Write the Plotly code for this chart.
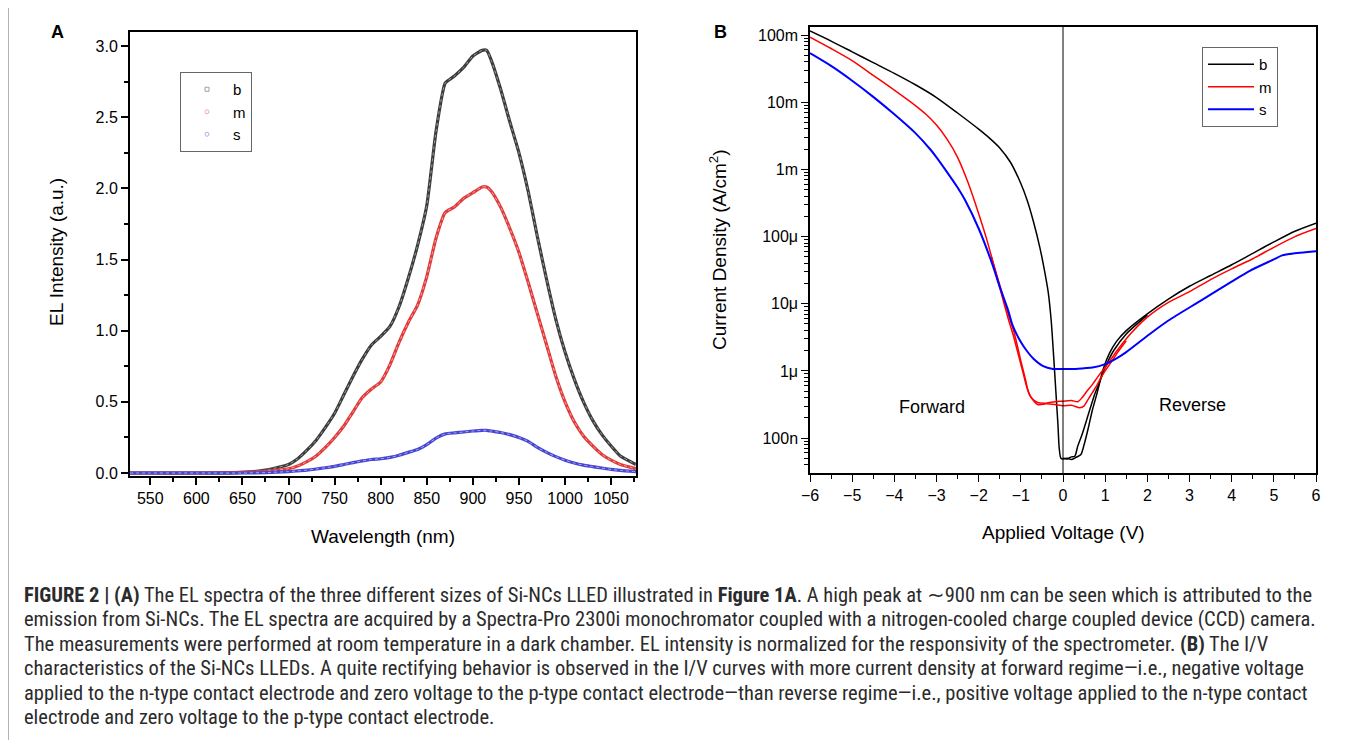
import plotly.graph_objects as go

W, H = 1357, 740
OFF = 8  # page offset of the figure inside the browser window

# ---------------- Panel A data (EL spectra) ----------------
wavelength_nm = [528, 550, 600, 650, 675, 700, 710, 720, 730, 740, 750, 760, 770, 780, 790, 800,
                 810, 820, 830, 840, 850, 860, 870, 880, 890, 900, 910, 915, 920, 930, 940, 950,
                 960, 970, 980, 990, 1000, 1010, 1020, 1030, 1040, 1050, 1060, 1077]
el_b = [0, 0, 0, 0.005, 0.02, 0.06, 0.1, 0.16, 0.23, 0.32, 0.42, 0.55, 0.68, 0.8, 0.9, 0.96,
        1.03, 1.17, 1.37, 1.6, 1.88, 2.4, 2.74, 2.79, 2.85, 2.93, 2.97, 2.97, 2.9, 2.7, 2.47, 2.25,
        1.98, 1.66, 1.36, 1.08, 0.85, 0.66, 0.5, 0.37, 0.27, 0.19, 0.12, 0.06]
el_m = [0, 0, 0, 0.004, 0.012, 0.03, 0.05, 0.08, 0.12, 0.18, 0.25, 0.33, 0.43, 0.53, 0.59, 0.64,
        0.76, 0.92, 1.06, 1.18, 1.38, 1.65, 1.83, 1.87, 1.93, 1.97, 2.01, 2.01, 1.98, 1.87, 1.72, 1.55,
        1.34, 1.12, 0.9, 0.68, 0.5, 0.36, 0.26, 0.19, 0.13, 0.09, 0.06, 0.03]
el_s = [0, 0, 0, 0.0, 0.003, 0.01, 0.015, 0.02, 0.028, 0.037, 0.047, 0.06, 0.073, 0.085, 0.095, 0.1,
        0.11, 0.125, 0.145, 0.165, 0.2, 0.245, 0.275, 0.282, 0.288, 0.295, 0.3, 0.3, 0.295, 0.285, 0.27, 0.25,
        0.222, 0.18, 0.145, 0.115, 0.09, 0.07, 0.055, 0.045, 0.035, 0.025, 0.018, 0.01]

# ---------------- Panel B data (I/V, log10 of J in A/cm^2) ----------------
v_b1 = [-6, -5.5, -5, -4.5, -4, -3.5, -3, -2.5, -2, -1.75, -1.5, -1.25, -1.0, -0.85, -0.7, -0.55, -0.45,
        -0.35, -0.28, -0.22, -0.17, -0.12, -0.09, -0.05, 0, 0.1, 0.2, 0.3, 0.42, 0.5, 0.6, 0.69, 0.8, 0.95,
        1.1, 1.27, 1.5, 2.0, 2.5, 3.0, 3.5, 4.0, 4.5, 5.0, 5.5, 6.0]
logj_b1 = [-0.94, -1.09, -1.25, -1.41, -1.57, -1.74, -1.93, -2.16, -2.4, -2.53, -2.68, -2.89, -3.21, -3.46,
           -3.78, -4.16, -4.47, -4.83, -5.25, -5.8, -6.3, -6.8, -7.15, -7.3, -7.31, -7.3, -7.32, -7.29,
           -7.25, -7.1, -6.85, -6.6, -6.35, -5.98, -5.74, -5.56, -5.4, -5.15, -4.93, -4.74, -4.58, -4.42,
           -4.25, -4.08, -3.92, -3.8]
v_b2 = [0.0, 0.1, 0.2, 0.28, 0.35, 0.45, 0.6, 0.75, 0.88, 1.0, 1.2, 1.5, 2.0]
logj_b2 = [-7.3, -7.31, -7.28, -7.27, -7.12, -6.95, -6.65, -6.35, -6.15, -5.95, -5.7, -5.45, -5.17]

v_m1 = [-6, -5.5, -5, -4.5, -4, -3.5, -3.25, -3, -2.75, -2.5, -2.25, -2.0, -1.8, -1.66, -1.5, -1.3, -1.18,
        -1.05, -0.95, -0.85, -0.75, -0.6, -0.4, -0.2, 0, 0.2, 0.35, 0.45, 0.57, 0.7, 0.88, 1.0, 1.28, 1.5,
        2.0, 2.5, 3.0, 3.5, 4.0, 4.5, 5.0, 5.5, 6.0]
logj_m1 = [-1.03, -1.2, -1.38, -1.6, -1.82, -2.05, -2.18, -2.34, -2.55, -2.82, -3.2, -3.66, -4.06, -4.38,
           -4.76, -5.22, -5.47, -5.78, -6.02, -6.26, -6.4, -6.47, -6.48, -6.46, -6.45, -6.44, -6.46, -6.4,
           -6.3, -6.2, -6.04, -5.95, -5.7, -5.52, -5.2, -4.98, -4.82, -4.64, -4.48, -4.33, -4.16, -4.0, -3.88]
v_m2 = [-1.7, -1.5, -1.3, -1.15, -1.0, -0.9, -0.8, -0.6, -0.4, -0.2, 0, 0.2, 0.4, 0.5, 0.6, 0.7, 0.8, 0.9,
        1.0, 1.11, 1.3, 1.5]
logj_m2 = [-4.3, -4.72, -5.15, -5.45, -5.85, -6.1, -6.35, -6.5, -6.49, -6.5, -6.52, -6.51, -6.55, -6.52,
           -6.42, -6.32, -6.22, -6.1, -6.0, -5.9, -5.72, -5.55]

v_s = [-6, -5.5, -5, -4.5, -4, -3.5, -3.15, -3, -2.75, -2.5, -2.32, -2.0, -1.66, -1.5, -1.3, -1.19, -1.0,
       -0.86, -0.7, -0.47, -0.24, 0, 0.3, 0.5, 0.7, 1.0, 1.28, 1.5, 2.06, 2.5, 3.25, 4.0, 4.43, 5.0, 5.2,
       5.5, 5.8, 6.0]
logj_s = [-1.27, -1.46, -1.68, -1.92, -2.18, -2.46, -2.7, -2.82, -3.04, -3.27, -3.46, -3.88, -4.44, -4.75,
          -5.1, -5.33, -5.57, -5.7, -5.82, -5.93, -5.97, -5.97, -5.97, -5.96, -5.95, -5.9, -5.81, -5.72,
          -5.45, -5.25, -4.96, -4.67, -4.51, -4.34, -4.28, -4.25, -4.23, -4.22]

ytick_vals_b = [1e-7, 1e-6, 1e-5, 1e-4, 1e-3, 1e-2, 1e-1]
ytick_text_b = ["100n", "1\u03bc", "10\u03bc", "100\u03bc", "1m", "10m", "100m"]

caption_lines = [
    "<b>FIGURE 2 | (A)</b> The EL spectra of the three different sizes of Si-NCs LLED illustrated in <b>Figure 1A</b>. A high peak at \u223c900 nm can be seen which is attributed to the",
    "emission from Si-NCs. The EL spectra are acquired by a Spectra-Pro 2300i monochromator coupled with a nitrogen-cooled charge coupled device (CCD) camera.",
    "The measurements were performed at room temperature in a dark chamber. EL intensity is normalized for the responsivity of the spectrometer. <b>(B)</b> The I/V",
    "characteristics of the Si-NCs LLEDs. A quite rectifying behavior is observed in the I/V curves with more current density at forward regime\u2014i.e., negative voltage",
    "applied to the n-type contact electrode and zero voltage to the p-type contact electrode\u2014than reverse regime\u2014i.e., positive voltage applied to the n-type contact",
    "electrode and zero voltage to the p-type contact electrode.",
]

def px(x):
    return (x - OFF) / W

def py(y):
    return 1 - (y - OFF) / H

FONT = "Liberation Sans, Arial, sans-serif"

fig = go.Figure()

# Panel A curves
a_series = [("b", el_b, "#3c3c3c", "#a0a0a0", "square-open"),
            ("m", el_m, "#e03a3a", "#f2a8a8", "circle-open"),
            ("s", el_s, "#4646d2", "#ababee", "circle-open")]
for name, vals, col, light, sym in a_series:
    fig.add_trace(go.Scatter(x=wavelength_nm, y=vals, mode="lines", xaxis="x", yaxis="y",
                             line=dict(color=col, width=3.2, shape="spline", smoothing=0.5),
                             showlegend=False, hoverinfo="skip"))
    fig.add_trace(go.Scatter(x=wavelength_nm, y=vals, mode="lines", xaxis="x", yaxis="y",
                             line=dict(color=light, width=1, shape="spline", smoothing=0.5, dash="dot"),
                             showlegend=False, hoverinfo="skip"))
for name, vals, col, light, sym in a_series:
    fig.add_trace(go.Scatter(x=[None], y=[None], mode="markers", xaxis="x", yaxis="y", name=name,
                             marker=dict(symbol=sym, size=4, color=light, line=dict(width=1, color=col)),
                             legend="legend"))

# Panel B curves
b_series = [("b", v_b1, logj_b1, v_b2, logj_b2, "#000000", 1.5),
            ("m", v_m1, logj_m1, v_m2, logj_m2, "#ff0000", 1.5),
            ("s", v_s, logj_s, None, None, "#0000ff", 2.0)]
for name, v1, l1, v2, l2, col, lw in b_series:
    fig.add_trace(go.Scatter(x=v1, y=[10 ** v for v in l1], mode="lines", xaxis="x2", yaxis="y2",
                             name=name, line=dict(color=col, width=lw, shape="spline", smoothing=0.7),
                             legend="legend2"))
    if v2 is not None:
        fig.add_trace(go.Scatter(x=v2, y=[10 ** v for v in l2], mode="lines", xaxis="x2", yaxis="y2",
                                 line=dict(color=col, width=lw, shape="spline", smoothing=0.7),
                                 showlegend=False, legend="legend2"))

minor_log = [k * 10.0 ** e for e in range(-8, 0) for k in range(2, 10)]

axis_common = dict(showgrid=False, zeroline=False, showline=True, linecolor="black", automargin=False,
                   ticks="outside", tickcolor="black", tickfont=dict(family=FONT, size=16, color="black"))

fig.update_layout(
    width=W, height=H, autosize=False,
    margin=dict(l=0, r=0, t=0, b=0, pad=0, autoexpand=False),
    paper_bgcolor="white", plot_bgcolor="white",
    font=dict(family=FONT, color="black"),
    xaxis=dict(domain=[px(130), px(636)], anchor="y", range=[528, 1077], tickmode="linear",
               tick0=550, dtick=50, ticklen=7, tickwidth=1.5, linewidth=2, mirror=True,
               minor=dict(ticks="outside", ticklen=4, tickwidth=1.5, dtick=25, tick0=525, tickcolor="black"),
               **axis_common),
    yaxis=dict(domain=[py(476), py(32)], anchor="x", range=[-0.021, 3.099], tickmode="linear",
               tick0=0, dtick=0.5, tickformat=".1f", ticklen=7, tickwidth=1.5, linewidth=2, mirror=True,
               minor=dict(ticks="outside", ticklen=4, tickwidth=1.5, dtick=0.25, tick0=0, tickcolor="black"),
               **axis_common),
    xaxis2=dict(domain=[px(810), px(1316)], anchor="y2", range=[-6, 6], tickmode="linear",
                tick0=-6, dtick=1, ticklen=7, tickwidth=1.2, linewidth=1.5, mirror=True,
                minor=dict(ticks="outside", ticklen=4, tickwidth=1.2, dtick=0.5, tick0=-6, tickcolor="black"),
                **axis_common),
    yaxis2=dict(domain=[py(473), py(27)], anchor="x2", type="log", range=[-7.52, -0.88],
                tickmode="array", tickvals=ytick_vals_b, ticktext=ytick_text_b, ticklen=7, tickwidth=1.2,
                linewidth=1.5, mirror=True,
                minor=dict(ticks="outside", ticklen=4, tickwidth=1, tickmode="array", tickvals=minor_log,
                           tickcolor="black"),
                **axis_common),
    yaxis3=dict(overlaying="y2", anchor="x2", side="right", type="log", range=[-7.52, -0.88],
                tickmode="array", tickvals=ytick_vals_b, showticklabels=False, ticks="inside",
                ticklen=7, tickwidth=1.2, tickcolor="black", showgrid=False, zeroline=False, showline=False,
                automargin=False,
                minor=dict(ticks="inside", ticklen=4, tickwidth=1, tickmode="array", tickvals=minor_log,
                           tickcolor="black")),
    legend=dict(x=px(180), y=py(72), xanchor="left", yanchor="top", bordercolor="#666666", borderwidth=1,
                bgcolor="white", font=dict(family=FONT, size=15, color="black"), itemwidth=42,
                tracegroupgap=0),
    legend2=dict(x=px(1202), y=py(47), xanchor="left", yanchor="top", bordercolor="#666666", borderwidth=1,
                 bgcolor="white", font=dict(family=FONT, size=15, color="black"), itemwidth=46,
                 tracegroupgap=0),
    showlegend=True,
)

# zero-voltage line in panel B
fig.add_shape(type="line", xref="x2", yref="y2 domain", x0=0, x1=0, y0=0, y1=1,
              line=dict(color="black", width=1))

# figure frame (left and right borders)
frame_col = "#9a9a9a"
fig.add_shape(type="line", xref="paper", yref="paper", x0=px(8), x1=px(8), y0=0, y1=1,
              line=dict(color=frame_col, width=1.5))
fig.add_shape(type="line", xref="paper", yref="paper", x0=px(1355), x1=px(1355), y0=0, y1=1,
              line=dict(color=frame_col, width=1.5))

def ann(text, x, y, size=16, bold=False, angle=0, xanchor="center", family=FONT, color="black"):
    fig.add_annotation(text=f"<b>{text}</b>" if bold else text, x=px(x), y=py(y), xref="paper",
                       yref="paper", showarrow=False, textangle=angle, xanchor=xanchor, yanchor="middle",
                       font=dict(family=family, size=size, color=color))

ann("A", 57, 32, size=18, bold=True)
ann("B", 720, 32, size=18, bold=True)
ann("EL Intensity (a.u.)", 57, 252, size=19, angle=-90)
ann("Wavelength (nm)", 383, 536, size=19)
ann("Current Density (A/cm<sup>2</sup>)", 718, 250, size=19, angle=-90)
ann("Applied Voltage (V)", 1063, 532, size=19)
ann("Forward", 932, 407, size=18)
ann("Reverse", 1192, 405, size=18)

cap_font = "Liberation Sans Narrow, Roboto Condensed, Roboto, sans-serif"
for i, line in enumerate(caption_lines):
    ann(line, 22, 595 + i * 24.4, size=20.5, xanchor="left", family=cap_font, color="#2b2b2b")

fig.write_html("out.html", config={"responsive": False})
